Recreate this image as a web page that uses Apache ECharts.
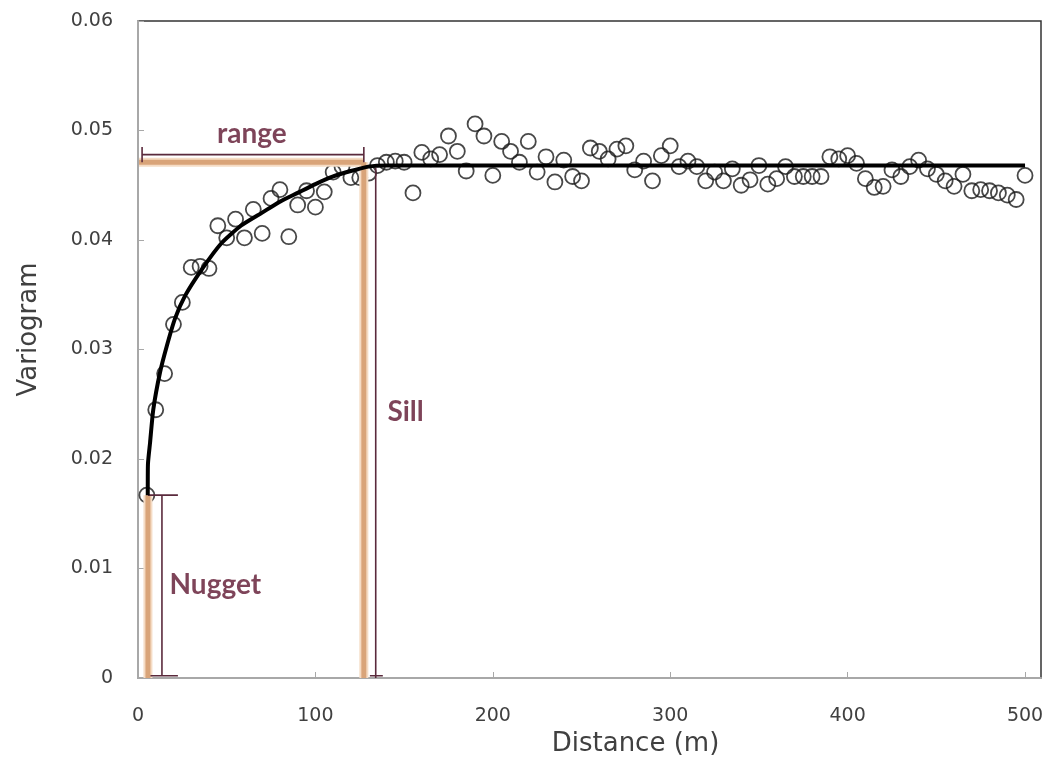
<!DOCTYPE html>
<html>
<head>
<meta charset="utf-8">
<script src="https://cdn.jsdelivr.net/npm/echarts@6/dist/echarts.min.js"></script>
<style>
html,body{margin:0;padding:0;background:#fff;}
#chart{width:1050px;height:770px;}
</style>
</head>
<body>
<div id="chart"></div>
<script>
// Experimental semivariogram (lag distance in m, semivariance)
const lagDistance = [5,10,15,20,25,30,35,40,45,50,55,60,65,70,75,80,85,90,95,100,
  105,110,115,120,125,130,135,140,145,150,155,160,165,170,175,180,185,190,195,200,
  205,210,215,220,225,230,235,240,245,250,255,260,265,270,275,280,285,290,295,300,
  305,310,315,320,325,330,335,340,345,350,355,360,365,370,375,380,385,390,395,400,
  405,410,415,420,425,430,435,440,445,450,455,460,465,470,475,480,485,490,495,500];
const semivariance = [0.0167,0.0245,0.0278,0.0323,0.0343,0.0375,0.0376,0.0374,0.0413,0.0402,
  0.0419,0.0402,0.0428,0.0406,0.0438,0.0446,0.0403,0.0432,0.0445,0.0430,
  0.0444,0.0462,0.0467,0.0457,0.0457,0.0461,0.0468,0.0471,0.0472,0.0471,
  0.0443,0.0480,0.0474,0.0478,0.0495,0.0481,0.0463,0.0506,0.0495,0.0459,
  0.0490,0.0481,0.0471,0.0490,0.0462,0.0476,0.0453,0.0473,0.0458,0.0454,
  0.0484,0.0481,0.0474,0.0483,0.0486,0.0464,0.0472,0.0454,0.0477,0.0486,
  0.0467,0.0472,0.0467,0.0454,0.0462,0.0454,0.0465,0.0450,0.0455,0.0468,
  0.0451,0.0456,0.0467,0.0458,0.0458,0.0458,0.0458,0.0476,0.0474,0.0477,
  0.0470,0.0456,0.0448,0.0449,0.0464,0.0458,0.0467,0.0473,0.0465,0.0460,
  0.0454,0.0449,0.0460,0.0445,0.0446,0.0445,0.0443,0.0441,0.0437,0.0459];

// Fitted model curve
const modelDistance = [5.5,5.6,6.8,8.6,12.4,16.2,20.8,26.5,35.9,47,58,70,80,90,100,110,120,130,140,500];
const modelValue = [0.0167,0.0195,0.0215,0.0245,0.0279,0.0303,0.0328,0.0349,0.0373,0.0397,
  0.0413,0.0425,0.0435,0.0443,0.0451,0.0458,0.0463,0.0467,0.0468,0.0468];

// Model parameters used for annotations
const nuggetValue = 0.0167;
const sillValue = 0.0471;
const rangeDistance = 127.3;

// Axis ticks
const xTicks = [0,100,200,300,400,500];
const yTicks = [0,0.01,0.02,0.03,0.04,0.05,0.06];

const TAN = '#d9a479';
const TAN_GLOW = '#f5dcc5';
const PURPLE = '#5a2a3c';
const MAROON = '#5e1530';
const AXIS_FONT = 'DejaVu Sans';

function seg(points, color, width, z) {
  return {
    type: 'line', data: points, symbol: 'none', silent: true, z: z,
    lineStyle: { color: color, width: width, cap: 'butt' },
    animation: false
  };
}

const series = [];
// tan highlight bars (glow + core)
const tanSegs = [
  [[5.6, 0], [5.6, nuggetValue]],
  [[rangeDistance, 0], [rangeDistance, sillValue]],
  [[0.6, sillValue], [rangeDistance, sillValue]]
];
tanSegs.forEach(s => series.push(seg(s, TAN_GLOW, 9, 3)));
tanSegs.forEach(s => series.push(seg(s, TAN, 5, 4)));

// purple dimension brackets
const nx = 13.5;
[
  [[5.6, nuggetValue], [22.5, nuggetValue]],
  [[nx, nuggetValue], [nx, 0.0002]],
  [[7, 0.0002], [22.5, 0.0002]],
  [[134, sillValue - 0.0005], [134, 0]],
  [[130.7, 0.0002], [138, 0.0002]],
  [[2.3, 0.0478], [rangeDistance, 0.0478]],
  [[2.3, 0.0485], [2.3, 0.0471]],
  [[rangeDistance, 0.0485], [rangeDistance, 0.0471]]
].forEach(s => series.push(seg(s, PURPLE, 1.6, 5)));

// experimental points
series.push({
  type: 'scatter', z: 2,
  data: lagDistance.map((d, i) => [d, semivariance[i]]),
  symbol: 'circle', symbolSize: 15,
  itemStyle: { color: 'rgba(255,255,255,0)', borderColor: '#1a1a1a', borderWidth: 1.8 },
  animation: false
});

// model curve
series.push({
  type: 'line', z: 6,
  data: modelDistance.map((d, i) => [d, modelValue[i]]),
  symbol: 'none', smooth: 0.2,
  lineStyle: { color: '#000', width: 4 },
  animation: false
});

// text annotations
const annoLabels = [
  { name: 'range', value: [64.2, 0.0497], align: 'center' },
  { name: 'Sill', value: [140.3, 0.02425], align: 'left' },
  { name: 'Nugget', value: [17.5, 0.0085], align: 'left' }
];
series.push({
  type: 'scatter', z: 7, symbolSize: 1, silent: true,
  itemStyle: { color: 'rgba(0,0,0,0)' },
  data: annoLabels.map(a => ({
    name: a.name, value: a.value,
    label: { show: true, position: a.align === 'center' ? 'inside' : 'right', distance: 0,
      formatter: '{b}', color: MAROON, fontFamily: 'Lato', fontWeight: 'bold', fontSize: 28,
      align: a.align, verticalAlign: 'middle' }
  })),
  animation: false
});

const chart = echarts.init(document.getElementById('chart'), null, { renderer: 'canvas' });
chart.setOption({
  backgroundColor: '#fff',
  animation: false,
  grid: { left: 138, right: 9, top: 21, bottom: 92, show: true,
    borderColor: '#333', borderWidth: 1.5, backgroundColor: '#fff',
    outerBoundsMode: 'none' },
  xAxis: {
    type: 'value', min: xTicks[0], max: 509, interval: 100,
    name: 'Distance (m)', nameLocation: 'middle', nameGap: 50,
    nameTextStyle: { fontFamily: AXIS_FONT, fontSize: 26, color: '#404040', padding: [0, 0, 0, 92] },
    axisLine: { show: true, lineStyle: { color: '#a8a8a8', width: 2 } },
    axisTick: { show: true, inside: true, length: 6, lineStyle: { color: '#a8a8a8' } },
    splitLine: { show: false },
    axisLabel: { showMaxLabel: false, margin: 29, fontFamily: AXIS_FONT, fontSize: 19, color: '#404040',
      formatter: v => xTicks.indexOf(v) >= 0 ? String(v) : '' }
  },
  yAxis: {
    type: 'value', min: yTicks[0], max: yTicks[yTicks.length - 1], interval: 0.01,
    name: 'Variogram', nameLocation: 'middle', nameGap: 96,
    nameTextStyle: { fontFamily: AXIS_FONT, fontSize: 26, color: '#404040', padding: [0, 0, 0, 40] },
    axisLine: { show: true, lineStyle: { color: '#a8a8a8', width: 2 } },
    axisTick: { show: true, inside: true, length: 6, lineStyle: { color: '#a8a8a8' } },
    splitLine: { show: false },
    axisLabel: { margin: 25, fontFamily: AXIS_FONT, fontSize: 19, color: '#404040',
      formatter: v => v === 0 ? '0' : v.toFixed(2) }
  },
  series: series
});
</script>
</body>
</html>
